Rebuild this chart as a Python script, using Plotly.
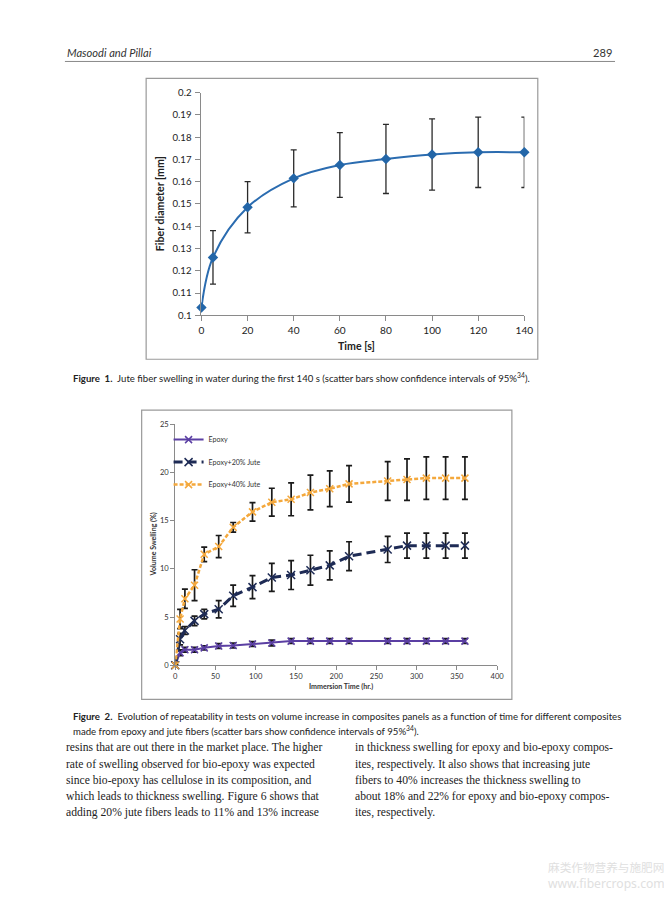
import plotly.graph_objects as go

# calibration between page pixels and the photographed picture
OFF = 8                 # HTML body margin
SX, BX = 0.9855, 1.0    # picture_x = SX * page_x + BX
SY, BY = 0.99, 5.0      # picture_y = SY * page_y + BY
FS = 1 / 0.988          # font compensation
W, H = 670, 890

# ---------------- Figure 1 data ----------------
f1_time = [0, 5, 20, 40, 60, 80, 100, 120, 140]
f1_diam = [0.1035, 0.126, 0.1485, 0.1615, 0.1675, 0.1702, 0.1722, 0.1732, 0.1732]
f1_err = [0.0, 0.012, 0.0115, 0.0128, 0.0145, 0.0155, 0.016, 0.0158, 0.0158]
f1_yticks = [0.1, 0.11, 0.12, 0.13, 0.14, 0.15, 0.16, 0.17, 0.18, 0.19, 0.2]
f1_yticktext = ["0.1", "0.11", "0.12", "0.13", "0.14", "0.15", "0.16", "0.17", "0.18", "0.19", "0.2"]
f1_xticks = [0, 20, 40, 60, 80, 100, 120, 140]

# ---------------- Figure 2 data ----------------
f2_time = [0, 6, 12, 24, 36, 54, 72, 96, 120, 144, 168, 192, 216, 264, 288, 312, 336, 360]
epoxy = [0, 1.3, 1.6, 1.6, 1.8, 2.0, 2.05, 2.2, 2.3, 2.5, 2.5, 2.5, 2.5, 2.5, 2.5, 2.5, 2.5, 2.5]
epoxy_err = [0, 0.3, 0.25, 0.25, 0.2, 0.25, 0.25, 0.25, 0.3, 0.25, 0.25, 0.25, 0.25, 0.25, 0.25, 0.25, 0.25, 0.25]
jute20 = [0, 2.7, 3.6, 4.6, 5.3, 5.8, 7.2, 8.1, 9.1, 9.35, 9.85, 10.35, 11.3, 12.0, 12.4, 12.4, 12.4, 12.4]
jute20_err = [0, 0.6, 0.4, 0.5, 0.5, 0.9, 1.1, 1.2, 1.45, 1.5, 1.55, 1.5, 1.5, 1.35, 1.3, 1.3, 1.3, 1.3]
jute40 = [0, 4.8, 6.9, 8.3, 11.5, 12.3, 14.3, 15.9, 16.9, 17.2, 17.9, 18.3, 18.8, 19.1, 19.25, 19.4, 19.4, 19.4]
jute40_err = [0, 1.0, 1.0, 1.6, 0.75, 1.15, 0.5, 0.95, 1.45, 1.7, 1.8, 1.85, 1.9, 2.0, 2.15, 2.2, 2.2, 2.2]
f2_xticks = [0, 50, 100, 150, 200, 250, 300, 350, 400]
f2_yticks = [0, 5, 10, 15, 20, 25]


def px(x):
    return ((x - BX) / SX - OFF) / W


def py(y):
    return 1 - ((y - BY) / SY - OFF) / H


def fs(s):
    return s * FS


fig = go.Figure()

# Figure 1 trace
fig.add_trace(go.Scatter(
    x=f1_time, y=f1_diam, mode="lines+markers", xaxis="x", yaxis="y", cliponaxis=False,
    line=dict(color="#2B6CB0", width=2, shape="spline", smoothing=1.0),
    marker=dict(symbol="diamond", size=8, color="#2366A8"),
    error_y=dict(type="data", array=f1_err, color="#2a2a2a", thickness=1.3, width=3),
    showlegend=False,
))

# Figure 2 traces
fig.add_trace(go.Scatter(
    x=f2_time, y=epoxy, mode="lines+markers", name="Epoxy", xaxis="x2", yaxis="y2",
    legendgroup="a", cliponaxis=False,
    line=dict(color="#5B3FA3", width=2),
    marker=dict(symbol="x-thin-open", size=7, line=dict(color="#8C7BC8", width=1.5)),
    error_y=dict(type="data", array=epoxy_err, color="#1a1a1a", thickness=1.7, width=3),
))
fig.add_trace(go.Scatter(
    x=f2_time, y=jute20, mode="lines+markers", name="Epoxy+20% Jute", xaxis="x2", yaxis="y2",
    legendgroup="b", cliponaxis=False,
    line=dict(color="#1E2B55", width=3, dash="9px,5px"),
    marker=dict(symbol="x-thin-open", size=8, line=dict(color="#7F98C6", width=1.5)),
    error_y=dict(type="data", array=jute20_err, color="#1a1a1a", thickness=1.7, width=3),
))
fig.add_trace(go.Scatter(
    x=f2_time, y=jute40, mode="lines+markers", name="Epoxy+40% Jute", xaxis="x2", yaxis="y2",
    legendgroup="c", cliponaxis=False,
    line=dict(color="#F4A83C", width=2.5, dash="4px,2px"),
    marker=dict(symbol="x-thin-open", size=7, line=dict(color="#F8C47A", width=1.5)),
    error_y=dict(type="data", array=jute40_err, color="#1a1a1a", thickness=1.7, width=3),
))

axis_common = dict(showgrid=False, zeroline=False, showline=True, linecolor="#8a8a8a",
                   linewidth=1, ticks="outside", tickcolor="#8a8a8a")

fig.update_layout(
    width=W, height=H, autosize=False,
    margin=dict(l=0, r=0, t=0, b=0),
    paper_bgcolor="white", plot_bgcolor="white",
    xaxis=dict(domain=[px(200), px(524)], range=[0, 140], tickvals=f1_xticks, ticklen=5,
               tickfont=dict(family="Lato", size=fs(10), color="#222"), anchor="y", **axis_common),
    yaxis=dict(domain=[py(315), py(91.7)], range=[0.1, 0.2], tickvals=f1_yticks, ticklen=5,
               ticklabelstandoff=2,
               ticktext=f1_yticktext, tickfont=dict(family="Lato", size=fs(9.5), color="#222"),
               anchor="x", **axis_common),
    xaxis2=dict(domain=[px(173.7), px(496.7)], range=[0, 400], tickvals=f2_xticks, ticklen=4,
                tickfont=dict(family="Lato", size=fs(7.5), color="#333"), anchor="y2", **axis_common),
    yaxis2=dict(domain=[py(665.7), py(424)], range=[0, 25], tickvals=f2_yticks, ticklen=4,
                tickfont=dict(family="Lato", size=fs(7.5), color="#333"), anchor="x2", **axis_common),
    legend=dict(x=px(167), y=py(425), xanchor="left", yanchor="top",
                bgcolor="rgba(0,0,0,0)", font=dict(family="Lato", size=fs(7), color="#333"),
                tracegroupgap=3.5, itemwidth=30),
)

shapes = []
# header rule
shapes.append(dict(type="line", xref="paper", yref="paper", x0=px(63), x1=px(615),
                   y0=py(60.5), y1=py(60.5), line=dict(color="#888", width=1)))
# figure boxes
shapes.append(dict(type="rect", xref="paper", yref="paper", x0=px(144.5), x1=px(537.5),
                   y0=py(359), y1=py(77.5), line=dict(color="#9a9a9a", width=1.2)))
shapes.append(dict(type="rect", xref="paper", yref="paper", x0=px(140), x1=px(511.5),
                   y0=py(700), y1=py(410), line=dict(color="#9a9a9a", width=1.2)))
fig.update_layout(shapes=shapes)

ann = []


def text(x, y, s, size, family="Lato", color="#222", xanchor="left", angle=0):
    ann.append(dict(x=px(x), y=py(y), xref="paper", yref="paper", text=s, showarrow=False,
                    xanchor=xanchor, yanchor="middle", textangle=angle,
                    font=dict(family=family, size=fs(size), color=color)))


# header
text(63, 52, "<i>Masoodi and Pillai</i>", 11, color="#333")
text(614, 52, "289", 11, color="#333", xanchor="right")

# axis titles
text(158, 203, "<b>Fiber diameter [mm]</b>", 10.5, angle=-90, xanchor="center")
text(356, 346, "<b>Time [s]</b>", 10.5, xanchor="center")
text(152, 545, "<b>Volume Swelling (%)</b>", 7, color="#333", angle=-90, xanchor="center")
text(340, 687, "<b>Immersion Time (hr.)</b>", 7, color="#333", xanchor="center")

# captions
text(69, 377, "<b>Figure  1.</b>  Jute fiber swelling in water during the first 140 s (scatter bars show confidence intervals of 95%<sup>34</sup>).", 9.5)
text(69, 717, "<b>Figure  2.</b>  Evolution of repeatability in tests on volume increase in composites panels as a function of time for different composites", 9.5)
text(69, 731, "made from epoxy and jute fibers (scatter bars show confidence intervals of 95%<sup>34</sup>).", 9.5)

# body text
left_lines = [
    "resins that are out there in the market place. The higher",
    "rate of swelling observed for bio-epoxy was expected",
    "since bio-epoxy has cellulose in its composition, and",
    "which leads to thickness swelling. Figure 6 shows that",
    "adding 20% jute fibers leads to 11% and 13% increase",
]
right_lines = [
    "in thickness swelling for epoxy and bio-epoxy compos-",
    "ites, respectively. It also shows that increasing jute",
    "fibers to 40% increases the thickness swelling to",
    "about 18% and 22% for epoxy and bio-epoxy compos-",
    "ites, respectively.",
]
for i, s in enumerate(left_lines):
    text(62, 748.5 + i * 16.3, s, 11.5, family="Liberation Serif", color="#222")
for i, s in enumerate(right_lines):
    text(352, 748.5 + i * 16.3, s, 11.5, family="Liberation Serif", color="#222")

# watermark
text(606, 868, "麻类作物营养与施肥网", 11.5, family="Noto Sans CJK SC", color="#e0e0e0", xanchor="center")
text(606, 884, "www.fibercrops.com", 12, family="Noto Sans", color="#e0e0e0", xanchor="center")

fig.update_layout(annotations=ann)

fig.write_html("out.html")
